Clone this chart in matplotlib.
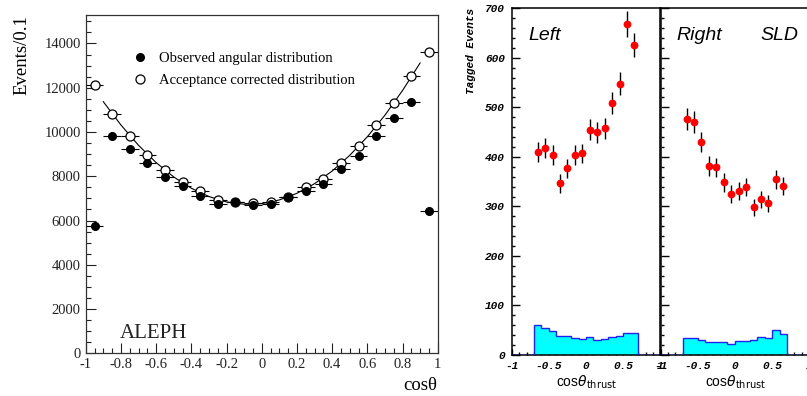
"""ALEPH angular distribution next to the SLD Left/Right tagged event panels.

Output: out.png
"""
import matplotlib
matplotlib.use("Agg")
import matplotlib.pyplot as plt
from matplotlib.font_manager import FontProperties
from matplotlib.lines import Line2D
from matplotlib.ticker import MultipleLocator
import numpy as np

# ── ALEPH: events per 0.1 in cos(theta) ──────────────────────────────────────
ALEPH_X = [-0.95, -0.85, -0.75, -0.65, -0.55, -0.45, -0.35, -0.25, -0.15, -0.05,
           0.05, 0.15, 0.25, 0.35, 0.45, 0.55, 0.65, 0.75, 0.85, 0.95]
ALEPH_OBS = [5760, 9800, 9245, 8600, 7965, 7540, 7120, 6760, 6815, 6710,
             6725, 7060, 7350, 7665, 8325, 8930, 9835, 10615, 11340, 6450]
ALEPH_CORR = [12140, 10815, 9800, 8975, 8295, 7720, 7355, 6935, 6830, 6785,
              6815, 7080, 7510, 7885, 8595, 9350, 10300, 11310, 12550, 13620]
ALEPH_XERR = 0.05

# fitted curve
FIT_X = [-0.9, -0.8, -0.7, -0.6, -0.5, -0.4, -0.3, -0.2, -0.1, 0.0,
         0.1, 0.2, 0.3, 0.4, 0.5, 0.6, 0.7, 0.8, 0.9]
FIT_Y = [11370, 10320, 9400, 8620, 7970, 7460, 7085, 6840, 6735, 6765,
         6930, 7230, 7665, 8235, 8945, 9785, 10760, 11875, 13120]

# ── SLD: tagged events, Left / Right polarisation ────────────────────────────
SLD_X = [-0.65, -0.55, -0.45, -0.35, -0.25, -0.15, -0.05,
         0.05, 0.15, 0.25, 0.35, 0.45, 0.55, 0.65]
LEFT_N = [410, 418, 404, 347, 377, 404, 407, 455, 450, 458, 509, 548, 669, 626]
LEFT_ERR = [20, 21, 20, 19, 19, 20, 20, 21, 21, 21, 23, 23, 26, 25]
RIGHT_N = [476, 470, 430, 382, 379, 349, 325, 331, 339, 298, 314, 306, 355, 341]
RIGHT_ERR = [22, 22, 21, 20, 19, 19, 18, 18, 18, 17, 18, 17, 19, 18]

BKG_EDGES = [-1.0, -0.9, -0.8, -0.7, -0.6, -0.5, -0.4, -0.3, -0.2, -0.1, 0.0,
             0.1, 0.2, 0.3, 0.4, 0.5, 0.6, 0.7, 0.8, 0.9, 1.0]
LEFT_BKG = [0, 0, 0, 61, 55, 49, 38, 38, 34, 33, 36, 31, 33, 37, 38, 45, 45, 0, 0, 0]
RIGHT_BKG = [0, 0, 0, 34, 35, 31, 26, 26, 27, 23, 29, 29, 31, 36, 35, 51, 43, 0, 0, 0]

ALEPH_XTICKS = [-1, -0.8, -0.6, -0.4, -0.2, 0, 0.2, 0.4, 0.6, 0.8, 1]
ALEPH_XTICKLABELS = ["-1", "-0.8", "-0.6", "-0.4", "-0.2", "0",
                     "0.2", "0.4", "0.6", "0.8", "1"]
SLD_XTICKS = [-1, -0.5, 0, 0.5, 1]
SLD_XTICKLABELS = ["-1", "-0.5", "0", "0.5", "1"]
SLD_YTICKS = [0, 100, 200, 300, 400, 500, 600, 700]

SERIF = "Liberation Serif"
HIGZ = FontProperties(family="Liberation Mono", style="italic", weight="bold", size=8)


def draw_aleph(ax) -> None:
    ax.plot(FIT_X, FIT_Y, color="black", lw=0.8, zorder=2)
    ax.errorbar(ALEPH_X, ALEPH_CORR, xerr=ALEPH_XERR, fmt="o", ms=6.5,
                mfc="white", mec="black", mew=0.9, ecolor="black",
                elinewidth=0.8, capsize=0, zorder=3)
    ax.errorbar(ALEPH_X, ALEPH_OBS, xerr=ALEPH_XERR, fmt="o", ms=5.5,
                mfc="black", mec="black", ecolor="black",
                elinewidth=0.8, capsize=0, zorder=4)

    ax.set_xlim(-1, 1)
    ax.set_ylim(0, 15300)
    ax.set_xticks(ALEPH_XTICKS, ALEPH_XTICKLABELS)
    ax.xaxis.set_minor_locator(MultipleLocator(0.05))
    ax.yaxis.set_major_locator(MultipleLocator(2000))
    ax.yaxis.set_minor_locator(MultipleLocator(500))
    ax.tick_params(which="both", direction="in", top=False, right=False,
                   labelsize=10.5, colors="#222222")
    ax.tick_params(which="major", length=7, width=0.8)
    ax.tick_params(which="minor", length=3.5, width=0.8)
    for lab in ax.get_xticklabels() + ax.get_yticklabels():
        lab.set_family(SERIF)
    for sp in ax.spines.values():
        sp.set_color("#333333")
        sp.set_linewidth(0.9)

    ax.set_ylabel("Events/0.1", family=SERIF, fontsize=13.5, loc="top", labelpad=10)
    ax.set_xlabel("cosθ", family=SERIF, fontsize=13.5, loc="right", labelpad=4)
    ax.text(0.098, 0.045, "ALEPH", transform=ax.transAxes, family=SERIF,
            fontsize=15, color="#222222")

    handles = [
        Line2D([], [], ls="none", marker="o", ms=5.5, mfc="black", mec="black"),
        Line2D([], [], ls="none", marker="o", ms=6.5, mfc="white", mec="black", mew=0.9),
    ]
    ax.legend(handles, ["Observed angular distribution",
                        "Acceptance corrected distribution"],
              loc="upper left", bbox_to_anchor=(0.095, 0.93), frameon=False,
              handlelength=1.0, handletextpad=0.85, labelspacing=0.62,
              prop={"family": SERIF, "size": 10.5})


def draw_sld(ax, counts, errors, bkg, tag, show_ylabels) -> None:
    ax.stairs(bkg, BKG_EDGES, fill=True, color="#00ffff", zorder=2)
    ax.stairs(bkg, BKG_EDGES, color="#2222ee", lw=1.0, zorder=3)
    ax.errorbar(SLD_X, counts, yerr=errors, fmt="o", ms=4.6, mfc="#ff0000",
                mec="#ff0000", ecolor="black", elinewidth=1.0, capsize=0, zorder=4)

    ax.set_xlim(-1, 1)
    ax.set_ylim(0, 700)
    ax.set_xticks(SLD_XTICKS, SLD_XTICKLABELS, fontproperties=HIGZ)
    ax.xaxis.set_minor_locator(MultipleLocator(0.1))
    ax.yaxis.set_minor_locator(MultipleLocator(20))
    ax.tick_params(which="both", direction="in", top=False, right=False, width=1.0)
    ax.tick_params(axis="x", which="major", length=4.5, pad=4)
    ax.tick_params(axis="x", which="minor", length=2)
    ax.tick_params(axis="y", which="major", length=5.5, pad=5)
    ax.tick_params(axis="y", which="minor", length=2.5)
    if show_ylabels:
        ax.set_yticks(SLD_YTICKS, [str(v) for v in SLD_YTICKS], fontproperties=HIGZ)
        ax.set_ylabel("Tagged Events", fontproperties=HIGZ, loc="top", labelpad=6)
    else:
        ax.set_yticks(SLD_YTICKS)
        ax.tick_params(axis="y", labelleft=False)
    for sp in ax.spines.values():
        sp.set_linewidth(1.1)

    ax.set_xlabel(r"cos$\theta_{\mathrm{thrust}}$", family="Liberation Sans",
                  fontsize=10, labelpad=2)
    ax.text(0.11, 0.945, tag, transform=ax.transAxes, family="Liberation Sans",
            style="italic", fontsize=14, va="top")


def main() -> None:
    plt.rcParams["mathtext.fontset"] = "dejavusans"
    fig = plt.figure(figsize=(8.07, 3.96), dpi=100)

    ax_a = fig.add_axes([0.1062, 0.1078, 0.4362, 0.855])
    draw_aleph(ax_a)

    ax_l = fig.add_axes([0.634, 0.1035, 0.1844, 0.8755])
    ax_r = fig.add_axes([0.8185, 0.1035, 0.1844, 0.8755], sharey=ax_l)
    draw_sld(ax_l, LEFT_N, LEFT_ERR, LEFT_BKG, "Left", True)
    draw_sld(ax_r, RIGHT_N, RIGHT_ERR, RIGHT_BKG, "Right", False)
    ax_r.text(0.67, 0.945, "SLD", transform=ax_r.transAxes, family="Liberation Sans",
              style="italic", fontsize=14, va="top")

    fig.savefig("out.png", dpi=100)
    plt.close(fig)


if __name__ == "__main__":
    main()
